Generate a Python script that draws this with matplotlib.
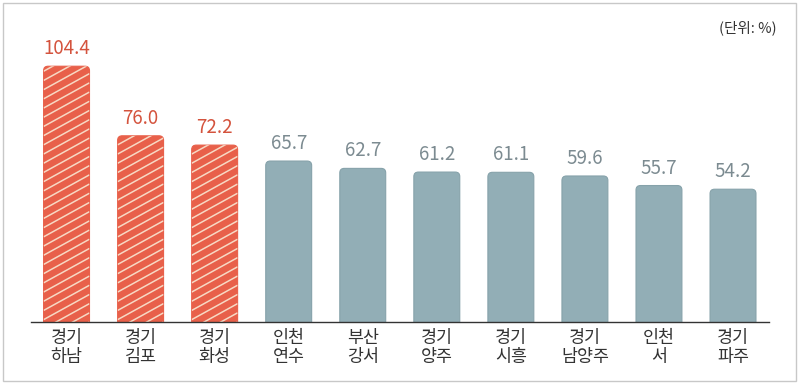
import matplotlib
matplotlib.use('Agg')
import matplotlib.pyplot as plt
from matplotlib.patches import FancyBboxPatch, Rectangle

plt.rcParams['font.family'] = ['Noto Sans CJK KR', 'DejaVu Sans']

regions = ['경기\n하남', '경기\n김포', '경기\n화성', '인천\n연수', '부산\n강서',
           '경기\n양주', '경기\n시흥', '경기\n남양주', '인천\n서', '경기\n파주']
values = [104.4, 76.0, 72.2, 65.7, 62.7, 61.2, 61.1, 59.6, 55.7, 54.2]
highlight = [True, True, True, False, False, False, False, False, False, False]

RED = '#E8604A'
RED_TXT = '#D4533D'
HATCH = '#F7D9C4'
BLUE = '#92AEB6'
BLUE_EDGE = '#86A2AA'
GRAY_TXT = '#7C8B91'

fig = plt.figure(figsize=(8, 3.85), dpi=100)
ax = fig.add_axes([31 / 800, 63 / 385, (769 - 31) / 800, 294 / 385])
ax.set_xlim(-0.48, 9.486)
ax.set_ylim(0, 120)

# px per unit, used to keep the corner rounding circular
x_px = 738 / 9.966
y_px = 294 / 120
width = 0.62
r = 4.5 / x_px

# hatch stripes: slope and vertical spacing in pixels
slope = 0.55
gap = 9.2

for i, (v, hl) in enumerate(zip(values, highlight)):
    style = 'round,pad=0,rounding_size={}'.format(r)
    if hl:
        patch = FancyBboxPatch((i - width / 2, -5), width, v + 5, boxstyle=style,
                               mutation_aspect=x_px / y_px,
                               facecolor=RED, edgecolor=RED, linewidth=0.8)
        ax.add_patch(patch)
        xl = i - width / 2
        xr = i + width / 2
        rise = slope * width * x_px / y_px
        y0 = -rise
        while y0 < v:
            ln, = ax.plot([xl, xr], [y0, y0 + rise], color=HATCH, linewidth=1.1,
                          solid_capstyle='butt')
            ln.set_clip_path(patch)
            y0 += gap / y_px
        color = RED_TXT
    else:
        patch = FancyBboxPatch((i - width / 2, -5), width, v + 5, boxstyle=style,
                               mutation_aspect=x_px / y_px,
                               facecolor=BLUE, edgecolor=BLUE_EDGE, linewidth=0.8)
        ax.add_patch(patch)
        color = GRAY_TXT
    ax.annotate('{:.1f}'.format(v), (i, v), xytext=(0, 5), textcoords='offset points',
                ha='center', va='bottom', fontsize=13.5, color=color)

ax.set_xticks(range(len(regions)))
ax.set_xticklabels(regions, fontsize=12.5, color='#333333', linespacing=1.1)
ax.tick_params(axis='x', length=0, pad=5)
ax.set_yticks([])
for s in ['top', 'right', 'left']:
    ax.spines[s].set_visible(False)
ax.spines['bottom'].set_color('#333333')
ax.spines['bottom'].set_linewidth(1.0)
ax.spines['bottom'].set_zorder(5)

fig.text(777 / 800, 1 - 28 / 385, '(단위: %)', ha='right', va='center',
         fontsize=10.5, color='#333333')

fig.patches.append(Rectangle((3 / 800, 4 / 385), 793 / 800, 378 / 385,
                             transform=fig.transFigure, fill=False,
                             edgecolor='#C8C8C8', linewidth=1.0))

fig.savefig('out.png', dpi=100)
